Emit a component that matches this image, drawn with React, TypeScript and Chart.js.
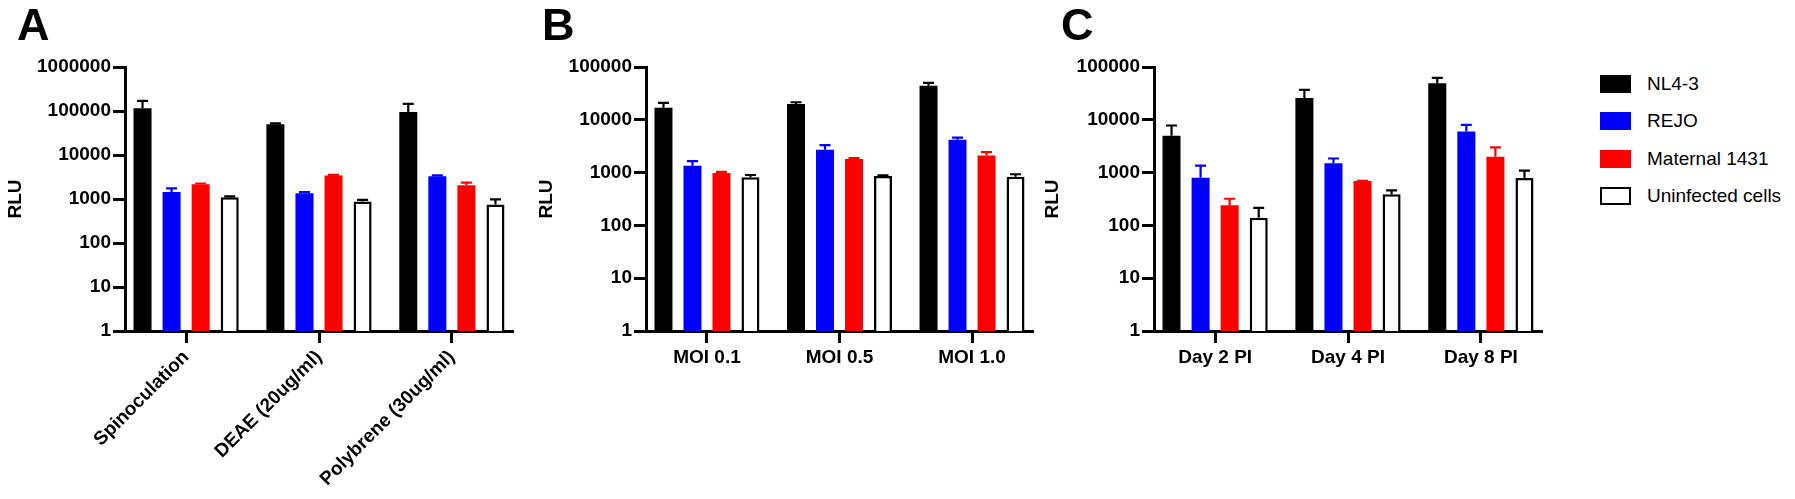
import React, { useEffect, useRef } from 'react';
import { Chart, registerables } from 'chart.js';

Chart.register(...registerables);

const FONT = "'Liberation Sans', Arial, Helvetica, sans-serif";

// Series
const seriesLabels = ['NL4-3', 'REJO', 'Maternal 1431', 'Uninfected cells'];
const seriesFill = ['#000000', '#0000ff', '#ff0000', '#ffffff'];
const seriesEdge = ['#000000', '#0000ff', '#ff0000', '#000000'];
const seriesEdgeWidth = [0, 0, 0, 2.5];

// Panel A
const catsA = ['Spinoculation', 'DEAE (20ug/ml)', 'Polybrene (30ug/ml)'];
const nl43A = [115000, 50000, 95000];
const rejoA = [1450, 1350, 3300];
const maternalA = [2150, 3400, 2050];
const uninfA = [1100, 880, 750];
const nl43ErrA = [55000, 2500, 50000];
const rejoErrA = [300, 80, 150];
const maternalErrA = [100, 150, 300];
const uninfErrA = [50, 80, 230];
const ticksA = [1, 10, 100, 1000, 10000, 100000, 1000000];

// Panel B
const catsB = ['MOI 0.1', 'MOI 0.5', 'MOI 1.0'];
const nl43B = [17000, 20000, 44000];
const rejoB = [1350, 2700, 4200];
const maternalB = [980, 1800, 2100];
const uninfB = [820, 860, 830];
const nl43ErrB = [4000, 1500, 6000];
const rejoErrB = [300, 600, 400];
const maternalErrB = [50, 80, 350];
const uninfErrB = [80, 30, 100];

// Panel C
const catsC = ['Day 2 PI', 'Day 4 PI', 'Day 8 PI'];
const nl43C = [5000, 26000, 49000];
const rejoC = [800, 1500, 6000];
const maternalC = [240, 690, 2000];
const uninfC = [140, 390, 790];
const nl43ErrC = [2800, 11000, 13000];
const rejoErrC = [550, 350, 2000];
const maternalErrC = [80, 10, 1000];
const uninfErrC = [75, 70, 300];

const ticksBC = [1, 10, 100, 1000, 10000, 100000];

const H = 499;
const TOP = 67;
const BOTTOM = 331;
const CAT_EDGE = 0.46; // category padding at each end of the x axis, in category units

type PanelDef = {
  letter: string;
  letterX: number;
  left: number;
  width: number;
  axisX: number;
  areaRight: number;
  cats: string[];
  values: number[][];
  errs: number[][];
  ticks: number[];
  rotate: boolean;
  titlePad: number;
};

const errorBarPlugin = (errs: number[][]) => ({
  id: 'errorBars',
  afterDatasetsDraw(chart: any) {
    const ctx = chart.ctx;
    const y = chart.scales.y;
    chart.data.datasets.forEach((ds: any, i: number) => {
      const meta = chart.getDatasetMeta(i);
      meta.data.forEach((bar: any, j: number) => {
        const v = ds.data[j] as number;
        const e = errs[i][j];
        const yTop = y.getPixelForValue(v + e);
        const yBar = y.getPixelForValue(v);
        ctx.save();
        ctx.strokeStyle = seriesEdge[i];
        ctx.lineWidth = 2.2;
        ctx.beginPath();
        ctx.moveTo(bar.x, yBar);
        ctx.lineTo(bar.x, yTop);
        ctx.moveTo(bar.x - 5.5, yTop);
        ctx.lineTo(bar.x + 5.5, yTop);
        ctx.stroke();
        ctx.restore();
      });
    });
  },
});

const letterPlugin = (letter: string, x: number) => ({
  id: 'panelLetter',
  afterDraw(chart: any) {
    const ctx = chart.ctx;
    ctx.save();
    ctx.fillStyle = '#000';
    ctx.font = `bold 45px ${FONT}`;
    ctx.textAlign = 'left';
    ctx.textBaseline = 'alphabetic';
    ctx.fillText(letter, x, 40);
    ctx.restore();
  },
});

function Panel(p: PanelDef) {
  const ref = useRef<HTMLCanvasElement | null>(null);
  useEffect(() => {
    if (!ref.current) return;
    const n = p.cats.length;
    const chart = new Chart(ref.current, {
      type: 'bar',
      data: {
        labels: p.cats,
        datasets: p.values.map((d, i) => ({
          label: seriesLabels[i],
          data: d,
          backgroundColor: seriesFill[i],
          borderColor: seriesEdge[i],
          borderWidth: seriesEdgeWidth[i],
          borderSkipped: 'start',
          categoryPercentage: 0.875,
          barPercentage: 0.62,
        })),
      },
      options: {
        responsive: false,
        animation: false,
        devicePixelRatio: 1,
        layout: {
          padding: { left: 0, top: TOP, right: p.width - (p.areaRight - p.left), bottom: 0 },
        },
        plugins: {
          legend: { display: false },
          tooltip: { enabled: false },
          title: { display: false },
        },
        scales: {
          x: {
            type: 'category',
            offset: true,
            grid: {
              display: true,
              drawOnChartArea: false,
              drawTicks: true,
              tickLength: 12,
              tickWidth: 3,
              tickColor: '#000',
              offset: false,
            },
            border: { display: true, color: '#000', width: 3 },
            ticks: {
              color: '#000',
              font: { family: FONT, size: 19, weight: 'bold' },
              padding: 3,
              autoSkip: false,
              maxRotation: p.rotate ? 45 : 0,
              minRotation: p.rotate ? 45 : 0,
            },
            afterFit: (s: any) => {
              s.height = H - BOTTOM;
            },
            afterUpdate: (s: any) => {
              s._startValue = -CAT_EDGE;
              s._valueRange = n - 1 + 2 * CAT_EDGE;
            },
          },
          y: {
            type: 'logarithmic',
            min: 1,
            max: p.ticks[p.ticks.length - 1],
            afterBuildTicks: (s: any) => {
              s.ticks = p.ticks.map((v) => ({ value: v }));
            },
            grid: {
              display: true,
              drawOnChartArea: false,
              drawTicks: true,
              tickLength: 12,
              tickWidth: 3,
              tickColor: '#000',
            },
            border: { display: true, color: '#000', width: 3 },
            ticks: {
              color: '#000',
              font: { family: FONT, size: 19, weight: 'bold' },
              padding: 2,
              callback: (v: any) => String(v),
            },
            title: {
              display: true,
              text: 'RLU',
              color: '#000',
              font: { family: FONT, size: 19, weight: 'bold' },
              padding: { top: p.titlePad, bottom: 0 },
            },
            afterFit: (s: any) => {
              s.width = p.axisX - p.left;
            },
          },
        },
      } as any,
      plugins: [errorBarPlugin(p.errs), letterPlugin(p.letter, p.letterX)],
    });
    return () => chart.destroy();
  }, []);
  return (
    <canvas
      ref={ref}
      width={p.width}
      height={H}
      style={{ position: 'absolute', left: p.left, top: 0, width: p.width, height: H }}
    />
  );
}

function Legend() {
  return (
    <div style={{ position: 'absolute', left: 1600, top: 75, fontFamily: FONT }}>
      {seriesLabels.map((lab, i) => (
        <div
          key={lab}
          style={{
            position: 'absolute',
            left: 0,
            top: Math.round(i * 37.3),
            height: 18,
            display: 'flex',
            alignItems: 'center',
            whiteSpace: 'nowrap',
          }}
        >
          <div
            style={{
              width: 31,
              height: 18,
              boxSizing: 'border-box',
              background: seriesFill[i],
              border: i === 3 ? '2.5px solid #000' : 'none',
            }}
          />
          <span style={{ marginLeft: 16, fontSize: 19, color: '#000', lineHeight: '18px' }}>{lab}</span>
        </div>
      ))}
    </div>
  );
}

export default function App() {
  return (
    <div style={{ position: 'fixed', left: 0, top: 0, width: 1795, height: H, background: '#fff', overflow: 'hidden' }}>
      <Panel
        letter="A"
        letterX={17}
        left={0}
        width={530}
        axisX={125}
        areaRight={513}
        cats={catsA}
        values={[nl43A, rejoA, maternalA, uninfA]}
        errs={[nl43ErrA, rejoErrA, maternalErrA, uninfErrA]}
        ticks={ticksA}
        rotate={true}
        titlePad={4}
      />
      <Panel
        letter="B"
        letterX={12}
        left={530}
        width={510}
        axisX={646}
        areaRight={1033}
        cats={catsB}
        values={[nl43B, rejoB, maternalB, uninfB]}
        errs={[nl43ErrB, rejoErrB, maternalErrB, uninfErrB]}
        ticks={ticksBC}
        rotate={false}
        titlePad={5.6}
      />
      <Panel
        letter="C"
        letterX={21}
        left={1040}
        width={520}
        axisX={1154}
        areaRight={1542}
        cats={catsC}
        values={[nl43C, rejoC, maternalC, uninfC]}
        errs={[nl43ErrC, rejoErrC, maternalErrC, uninfErrC]}
        ticks={ticksBC}
        rotate={false}
        titlePad={1.6}
      />
      <Legend />
    </div>
  );
}
